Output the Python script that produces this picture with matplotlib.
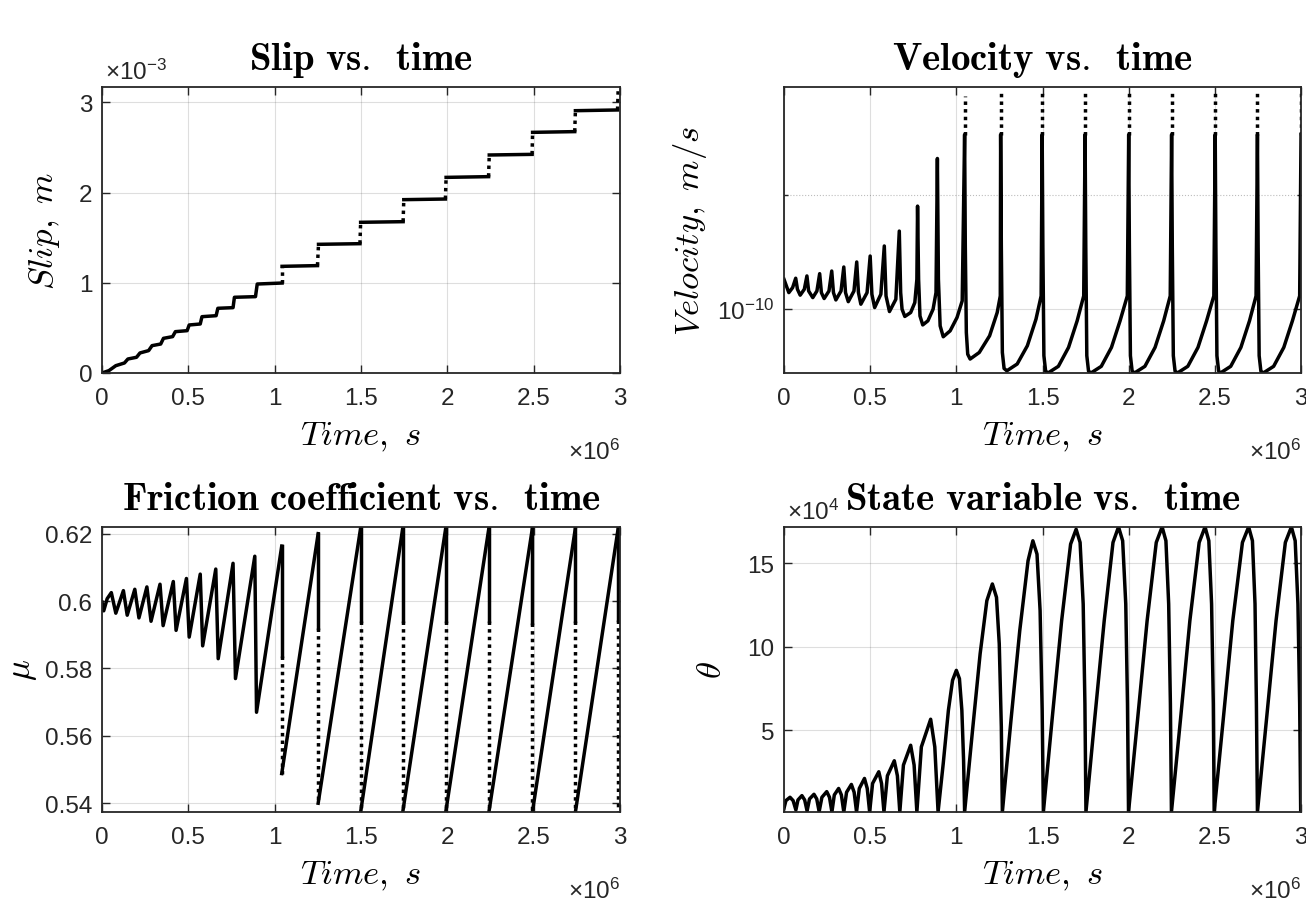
import numpy as np
import matplotlib
matplotlib.use("Agg")
import matplotlib.pyplot as plt
from matplotlib.ticker import FixedLocator, FuncFormatter, NullFormatter

plt.rcParams["font.family"] = ["Liberation Sans", "DejaVu Sans"]
plt.rcParams["mathtext.fontset"] = "cm"

AX_COLOR = "#262626"
LW = 2.5
DOT = (0, (1, 1.2))

# all times are in units of 1e6 s

# slip, x1e-3 m : slow creep part with small steps
slip_t = [0.000, 0.040, 0.080, 0.130, 0.150, 0.200, 0.220, 0.270, 0.290, 0.340,
          0.356, 0.409, 0.425, 0.493, 0.505, 0.569, 0.579, 0.661, 0.671, 0.759,
          0.767, 0.889, 0.899, 1.043]
slip_s = [0.000, 0.026, 0.081, 0.111, 0.155, 0.174, 0.222, 0.248, 0.303, 0.321,
          0.384, 0.403, 0.458, 0.469, 0.532, 0.543, 0.624, 0.635, 0.717, 0.724,
          0.839, 0.846, 0.986, 0.997]
# plateaus between the big slip events
plat_t0 = [1.043, 1.254, 1.498, 1.748, 1.993, 2.243, 2.494, 2.742]
plat_t1 = [1.248, 1.494, 1.744, 1.989, 2.239, 2.491, 2.738, 2.986]
plat_s0 = [1.182, 1.426, 1.670, 1.921, 2.168, 2.416, 2.667, 2.907]
plat_s1 = [1.190, 1.433, 1.677, 1.928, 2.176, 2.423, 2.675, 2.915]
slip_end_t = 2.990
slip_end_s = 3.165

# velocity, x1e-10 m/s
vel_t = [0.000,
         0.028, 0.050, 0.068,
         0.078, 0.094, 0.118, 0.133,
         0.143, 0.167, 0.191, 0.207,
         0.217, 0.233, 0.261, 0.277,
         0.287, 0.301, 0.331, 0.347,
         0.357, 0.373, 0.406, 0.422,
         0.432, 0.446, 0.482, 0.500,
         0.510, 0.526, 0.562, 0.582,
         0.592, 0.612, 0.649, 0.669,
         0.677, 0.685, 0.701, 0.735, 0.759, 0.771, 0.775,
         0.781, 0.789, 0.805, 0.835, 0.865, 0.882, 0.890,
         0.896, 0.906, 0.924, 0.964, 1.004, 1.034, 1.048,
         1.052, 1.058, 1.066, 1.080, 1.133, 1.193, 1.237, 1.255, 1.257,
         1.261, 1.267, 1.277, 1.293, 1.353, 1.412, 1.462, 1.492, 1.498,
         1.502, 1.508, 1.518, 1.532, 1.592, 1.651, 1.701, 1.739, 1.747,
         1.751, 1.757, 1.767, 1.781, 1.841, 1.900, 1.950, 1.992, 2.000,
         2.004, 2.010, 2.020, 2.034, 2.094, 2.153, 2.203, 2.241, 2.249,
         2.253, 2.259, 2.269, 2.283, 2.343, 2.402, 2.452, 2.494, 2.502,
         2.506, 2.512, 2.522, 2.532, 2.592, 2.651, 2.701, 2.739, 2.747,
         2.751, 2.757, 2.767, 2.781, 2.841, 2.900, 2.950, 2.992, 3.000]
vel_v = [1.199,
         1.106, 1.140, 1.207,
         1.129, 1.089, 1.129, 1.224,
         1.117, 1.073, 1.117, 1.241,
         1.106, 1.067, 1.117, 1.261,
         1.106, 1.058, 1.117, 1.292,
         1.106, 1.047, 1.117, 1.332,
         1.106, 1.031, 1.106, 1.381,
         1.095, 1.010, 1.095, 1.468,
         1.084, 0.986, 1.062, 1.607,
         1.106, 1.000, 0.957, 0.980, 1.041, 1.199, 1.870,
         1.199, 0.960, 0.909, 0.932, 1.000, 1.106, 2.497,
         1.199, 0.904, 0.846, 0.877, 0.951, 1.052, 2.888,
         1.468, 0.868, 0.761, 0.739, 0.769, 0.851, 0.980, 1.084, 2.888,
         1.468, 0.769, 0.698, 0.688, 0.717, 0.801, 0.941, 1.084, 2.888,
         1.468, 0.754, 0.687, 0.679, 0.707, 0.793, 0.932, 1.084, 2.888,
         1.468, 0.754, 0.687, 0.679, 0.707, 0.793, 0.932, 1.084, 2.888,
         1.468, 0.754, 0.687, 0.679, 0.707, 0.793, 0.932, 1.084, 2.888,
         1.468, 0.754, 0.687, 0.679, 0.707, 0.793, 0.932, 1.084, 2.888,
         1.468, 0.754, 0.687, 0.679, 0.707, 0.793, 0.932, 1.084, 2.888,
         1.468, 0.754, 0.687, 0.679, 0.707, 0.793, 0.932, 1.084, 2.888]
# sparse (dotted) tops of the fast events
spike_t = [1.048, 1.257, 1.498, 1.747, 2.000, 2.249, 2.502, 2.747, 3.000]
spike_top = [3.642, 3.793, 3.793, 3.793, 3.793, 3.793, 3.793, 3.793, 3.793]
spike_base = 2.888

# friction coefficient
fric_t = [0.000, 0.010, 0.030, 0.054, 0.080, 0.124, 0.146, 0.190, 0.214, 0.260,
          0.284, 0.336, 0.354, 0.413, 0.429, 0.489, 0.505, 0.569, 0.583, 0.659,
          0.673, 0.759, 0.773, 0.885, 0.895, 1.041]
fric_mu = [0.5997, 0.5971, 0.6007, 0.6025, 0.5964, 0.6031, 0.5958, 0.6035, 0.5950, 0.6042,
           0.5940, 0.6050, 0.5927, 0.6058, 0.5913, 0.6067, 0.5893, 0.6080, 0.5867, 0.6095,
           0.5829, 0.6112, 0.5770, 0.6133, 0.5670, 0.6163]
drop_t = [1.041, 1.252, 1.498, 1.742, 1.991, 2.241, 2.493, 2.742, 2.990]
drop_top = [0.6163, 0.6200, 0.6217, 0.6217, 0.6217, 0.6217, 0.6217, 0.6217, 0.6217]
drop_mid = [0.5837, 0.5920, 0.5940, 0.5940, 0.5940, 0.5940, 0.5935, 0.5940, 0.5945]
drop_low = [0.5488, 0.5400, 0.5374, 0.5374, 0.5374, 0.5374, 0.5374, 0.5374, 0.5374]

# state variable, x1e4
theta_t = [0.000, 0.011, 0.035, 0.053, 0.069,
           0.081, 0.104, 0.120, 0.134,
           0.148, 0.174, 0.190, 0.204,
           0.220, 0.248, 0.264, 0.278,
           0.292, 0.317, 0.333, 0.347,
           0.363, 0.391, 0.407, 0.421,
           0.437, 0.467, 0.483, 0.497,
           0.514, 0.550, 0.566, 0.580,
           0.600, 0.640, 0.658, 0.672,
           0.693, 0.735, 0.755, 0.771,
           0.797, 0.851, 0.875, 0.894,
           0.924, 0.954, 0.978, 1.000, 1.018, 1.032, 1.042, 1.048,
           1.094, 1.138, 1.177, 1.209, 1.233, 1.249, 1.261, 1.267,
           1.317, 1.368, 1.416, 1.444, 1.468, 1.486, 1.498, 1.505,
           1.557, 1.611, 1.663, 1.695, 1.718, 1.736, 1.746, 1.752,
           1.804, 1.858, 1.909, 1.941, 1.965, 1.983, 1.993, 1.999,
           2.053, 2.107, 2.160, 2.194, 2.216, 2.232, 2.242, 2.248,
           2.302, 2.355, 2.409, 2.443, 2.465, 2.481, 2.491, 2.496,
           2.550, 2.604, 2.660, 2.696, 2.718, 2.733, 2.741, 2.747,
           2.801, 2.855, 2.909, 2.944, 2.966, 2.982, 2.992, 2.998]
theta_v = [0.32, 0.78, 0.98, 0.78, 0.22,
           0.82, 1.08, 0.82, 0.16,
           0.88, 1.16, 0.88, 0.12,
           0.98, 1.32, 0.98, 0.10,
           1.12, 1.51, 1.12, 0.10,
           1.28, 1.75, 1.28, 0.10,
           1.51, 2.11, 1.51, 0.10,
           1.81, 2.51, 1.81, 0.10,
           2.27, 3.17, 2.27, 0.10,
           2.91, 4.10, 2.91, 0.10,
           4.00, 5.66, 4.00, 0.10,
           3.01, 6.20, 7.99, 8.59, 8.09, 6.20, 3.21, 0.10,
           5.00, 9.58, 12.77, 13.77, 12.97, 10.18, 5.20, 0.10,
           5.60, 10.98, 15.16, 16.36, 15.56, 12.17, 6.20, 0.10,
           5.80, 11.57, 16.16, 17.05, 16.26, 12.57, 6.59, 0.10,
           5.80, 11.57, 16.26, 17.19, 16.36, 12.57, 6.59, 0.10,
           5.80, 11.57, 16.26, 17.19, 16.36, 12.57, 6.59, 0.10,
           5.80, 11.57, 16.26, 17.19, 16.36, 12.57, 6.59, 0.10,
           5.80, 11.57, 16.26, 17.19, 16.36, 12.57, 6.59, 0.10,
           5.80, 11.57, 16.26, 17.19, 16.36, 12.57, 6.59, 0.10]

x_ticks = [0, 0.5, 1, 1.5, 2, 2.5, 3]
fmt_g = FuncFormatter(lambda v, p: f"{v:g}")


def style_axes(ax, ylabel, title, ypad=10):
    ax.set_xlim(0, 3)
    ax.xaxis.set_major_locator(FixedLocator(x_ticks))
    ax.xaxis.set_major_formatter(fmt_g)
    ax.grid(True, which="major", color=AX_COLOR, alpha=0.15, lw=0.8)
    ax.set_axisbelow(True)
    ax.tick_params(which="both", direction="in", top=True, right=True,
                   colors=AX_COLOR, labelsize=17.5, width=1.0)
    ax.tick_params(which="major", length=6)
    ax.tick_params(which="minor", length=3)
    ax.tick_params(axis="x", pad=10)
    ax.tick_params(axis="y", pad=7)
    for sp in ax.spines.values():
        sp.set_color(AX_COLOR)
        sp.set_linewidth(1.3)
    ax.set_xlabel(r"$Time,\ s$", fontsize=25, labelpad=8)
    ax.set_ylabel(ylabel, fontsize=25, labelpad=ypad)
    ax.set_title(title, fontsize=28, pad=13)
    ax.text(1.0, -0.30, "×$\\mathregular{10^{6}}$", transform=ax.transAxes,
            ha="right", va="baseline", fontsize=17.5, color=AX_COLOR)


fig = plt.figure(figsize=(13.06, 9.04), dpi=100)
ax1 = fig.add_axes([0.0781, 0.5863, 0.3966, 0.3164])
ax2 = fig.add_axes([0.6003, 0.5863, 0.3959, 0.3164])
ax3 = fig.add_axes([0.0781, 0.1007, 0.3966, 0.3153])
ax4 = fig.add_axes([0.6003, 0.1007, 0.3959, 0.3153])

# --- slip ---
ax1.plot(slip_t, slip_s, color="k", lw=LW)
prev_t, prev_s = slip_t[-1], slip_s[-1]
for t0, t1, s0, s1 in zip(plat_t0, plat_t1, plat_s0, plat_s1):
    ax1.plot([prev_t, t0], [prev_s, s0], color="k", lw=LW, ls=DOT)
    ax1.plot([t0, t1], [s0, s1], color="k", lw=LW)
    prev_t, prev_s = t1, s1
ax1.plot([prev_t, slip_end_t], [prev_s, slip_end_s], color="k", lw=LW, ls=DOT)
ax1.set_ylim(0, 3.17)
ax1.yaxis.set_major_locator(FixedLocator([0, 1, 2, 3]))
ax1.yaxis.set_major_formatter(fmt_g)
style_axes(ax1, r"$Slip,\ m$", r"$\mathbf{Slip\ vs.\,\ time}$", ypad=12)
ax1.text(0.005, 1.028, "×$\\mathregular{10^{-3}}$", transform=ax1.transAxes,
         ha="left", va="baseline", fontsize=17.5, color=AX_COLOR)

# --- velocity ---
ax2.plot(vel_t, np.array(vel_v) * 1e-10, color="k", lw=LW)
for st, top in zip(spike_t, spike_top):
    ax2.plot([st, st], [spike_base * 1e-10, top * 1e-10], color="k", lw=LW, ls=DOT)
ax2.set_yscale("log")
ax2.set_ylim(0.679e-10, 3.855e-10)
ax2.yaxis.set_major_locator(FixedLocator([1e-10]))
ax2.yaxis.set_minor_locator(FixedLocator([2e-10]))
ax2.yaxis.set_major_formatter(FuncFormatter(lambda v, p: r"$\mathregular{10^{-10}}$"))
ax2.yaxis.set_minor_formatter(NullFormatter())
style_axes(ax2, r"$Velocity,\ m/s$", r"$\mathbf{Velocity\ vs.\,\ time}$", ypad=6)
ax2.grid(True, which="minor", axis="y", color=AX_COLOR, alpha=0.3, lw=0.8, ls=":")

# --- friction ---
ax3.plot(fric_t, fric_mu, color="k", lw=LW)
for i, t in enumerate(drop_t):
    ax3.plot([t, t], [drop_top[i], drop_mid[i]], color="k", lw=LW)
    ax3.plot([t, t], [drop_mid[i], drop_low[i]], color="k", lw=LW, ls=DOT)
    if i + 1 < len(drop_t):
        ax3.plot([t, drop_t[i + 1]], [drop_low[i], drop_top[i + 1]], color="k", lw=LW)
ax3.set_ylim(0.5374, 0.622)
ax3.yaxis.set_major_locator(FixedLocator([0.54, 0.56, 0.58, 0.6, 0.62]))
ax3.yaxis.set_major_formatter(fmt_g)
style_axes(ax3, r"$\mu$", r"$\mathbf{Friction\ coefficient\ vs.\,\ time}$", ypad=4)

# --- state variable ---
ax4.plot(theta_t, theta_v, color="k", lw=LW)
ax4.set_ylim(0.10, 17.19)
ax4.yaxis.set_major_locator(FixedLocator([5, 10, 15]))
ax4.yaxis.set_major_formatter(fmt_g)
style_axes(ax4, r"$\theta$", r"$\mathbf{State\ variable\ vs.\,\ time}$", ypad=14)
ax4.text(0.005, 1.028, "×$\\mathregular{10^{4}}$", transform=ax4.transAxes,
         ha="left", va="baseline", fontsize=17.5, color=AX_COLOR)

fig.savefig("out.png", dpi=100)
